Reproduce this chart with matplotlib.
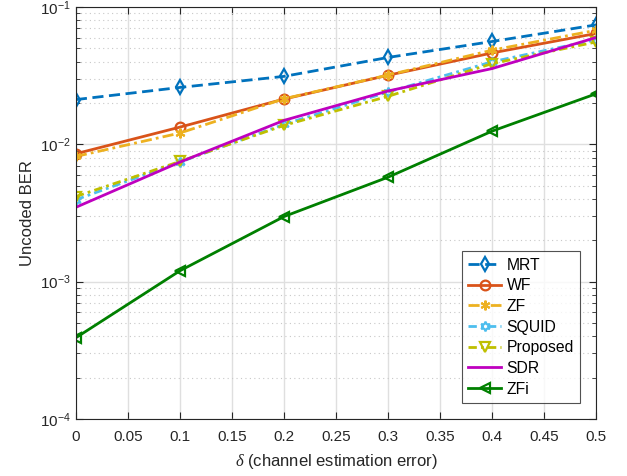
import matplotlib
matplotlib.use("Agg")
import matplotlib.pyplot as plt
from matplotlib.ticker import LogLocator, NullFormatter

plt.rcParams['font.family'] = ['Liberation Sans', 'DejaVu Sans']
plt.rcParams['mathtext.fontset'] = 'custom'
plt.rcParams['mathtext.rm'] = 'Liberation Sans'
plt.rcParams['mathtext.it'] = 'Liberation Serif:italic'

delta = [0, 0.1, 0.2, 0.3, 0.4, 0.5]
mrt = [0.0212, 0.0260, 0.0313, 0.0430, 0.0562, 0.0743]
wf = [0.00855, 0.01336, 0.0214, 0.0319, 0.0464, 0.0643]
zf = [0.00817, 0.0121, 0.0215, 0.0320, 0.0486, 0.0679]
squid = [0.00395, 0.00743, 0.0140, 0.0241, 0.0400, 0.0580]
proposed = [0.00417, 0.00751, 0.01376, 0.0224, 0.0388, 0.0558]
sdr = [0.00348, 0.00743, 0.01496, 0.0245, 0.0357, 0.0601]
zfi = [0.00039, 0.00120, 0.00298, 0.00577, 0.0125, 0.0234]
xticks = [0, 0.05, 0.1, 0.15, 0.2, 0.25, 0.3, 0.35, 0.4, 0.45, 0.5]
xticklabels = ['0', '0.05', '0.1', '0.15', '0.2', '0.25', '0.3', '0.35', '0.4', '0.45', '0.5']

fig = plt.figure(figsize=(6.27, 4.76), dpi=100)
ax = fig.add_axes([0.121, 0.120, 0.830, 0.865])

lw = 2
ax.semilogy(delta, mrt, '--', color='#0072BD', marker='d', ms=7.5, mfc='none', mew=1.6, lw=lw, label='MRT', dashes=(4, 2))
ax.semilogy(delta, wf, '-', color='#D95319', marker='o', ms=7, mfc='none', mew=1.6, lw=lw, label='WF')
ax.semilogy(delta, zf, '-.', color='#EDB120', marker=(6, 2, 0), ms=7, mfc='none', mew=1.5, lw=lw, label='ZF', dashes=(4, 1.5, 1, 1.5))
ax.semilogy(delta, squid, '-.', color='#4DBEEE', marker=(6, 1, 0), ms=7, mfc='none', mew=1.5, lw=lw, label='SQUID', dashes=(3, 1.5, 1, 1.5))
ax.semilogy(delta, proposed, '-.', color='#BFBF00', marker='v', ms=7, mfc='none', mew=1.6, lw=lw, label='Proposed', dashes=(3, 1.5, 1, 1.5))
ax.semilogy(delta, sdr, '-', color='#BF00BF', lw=lw, label='SDR')
ax.semilogy(delta, zfi, '-', color='#008000', marker='<', ms=7, mfc='none', mew=1.6, lw=lw, label='ZFi')

ax.set_xlim(0, 0.5)
ax.set_ylim(1e-4, 1e-1)
ax.set_xticks(xticks)
ax.set_xticklabels(xticklabels)
ax.yaxis.set_major_locator(LogLocator(base=10, numticks=10))
ax.yaxis.set_minor_locator(LogLocator(base=10, subs=range(2, 10), numticks=20))
ax.yaxis.set_minor_formatter(NullFormatter())

ax.grid(True, which='major', color='#DFDFDF', lw=1, ls='-')
ax.grid(True, which='minor', axis='y', color='#C8C8C8', lw=0.8, ls=(0, (1, 3)))
ax.set_axisbelow(True)

ax.tick_params(which='both', direction='in', top=True, right=True, labelsize=11, colors='#262626')
ax.tick_params(which='major', length=5)
ax.tick_params(which='minor', length=3)
ax.tick_params(axis='x', pad=8)
for s in ax.spines.values():
    s.set_color('#262626')
    s.set_linewidth(0.8)

ax.set_xlabel(r'$\delta$ (channel estimation error)', fontsize=12, color='#262626', labelpad=6)
ax.set_ylabel('Uncoded BER', fontsize=12, color='#262626')

leg = ax.legend(loc='lower right', bbox_to_anchor=(0.969, 0.039), fontsize=11.3, frameon=True,
                fancybox=False, edgecolor='#262626', handlelength=2.1, borderpad=0.4,
                labelspacing=0.36, handletextpad=0.35, borderaxespad=0)
leg.get_frame().set_linewidth(0.8)

fig.savefig('out.png', dpi=100)
